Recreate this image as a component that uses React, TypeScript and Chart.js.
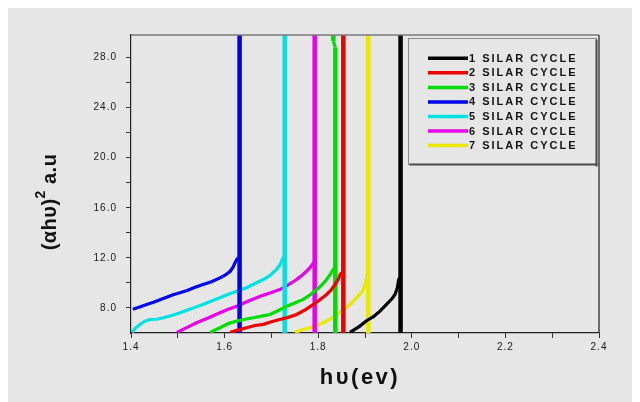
import React, { useEffect, useRef } from 'react';
import { Chart, registerables } from 'chart.js';

Chart.register(...registerables);

const seriesLabels = ['1 SILAR CYCLE', '2 SILAR CYCLE', '3 SILAR CYCLE', '4 SILAR CYCLE', '5 SILAR CYCLE', '6 SILAR CYCLE', '7 SILAR CYCLE'];
const seriesColors = ['#000000', '#ee0000', '#00dd00', '#0000ee', '#00e2e2', '#e800e8', '#e8e800'];

// 1 SILAR cycle
const s1X = [1.868, 1.889, 1.904, 1.918, 1.932, 1.946, 1.958, 1.964, 1.969, 1.972, 1.976, 1.976, 1.976];
const s1Y = [6.05, 6.55, 7.0, 7.3, 7.75, 8.28, 8.75, 9.08, 9.6, 10.27, 10.5, 6.0, 29.8];
// 2 SILAR cycle
const s2X = [1.612, 1.630, 1.647, 1.665, 1.683, 1.700, 1.718, 1.736, 1.754, 1.772, 1.790, 1.805, 1.818, 1.828, 1.836, 1.843, 1.847, 1.8537, 1.8537, 1.8537];
const s2Y = [6.05, 6.25, 6.42, 6.6, 6.69, 6.9, 7.08, 7.25, 7.48, 7.85, 8.28, 8.7, 9.08, 9.45, 9.87, 10.3, 10.67, 10.9, 6.0, 29.8];
// 3 SILAR cycle
const s3X = [1.569, 1.590, 1.608, 1.626, 1.644, 1.661, 1.679, 1.697, 1.715, 1.733, 1.750, 1.768, 1.783, 1.797, 1.808, 1.818, 1.826, 1.832, 1.8366, 1.8366, 1.8366, 1.8323, 1.8323];
const s3Y = [6.05, 6.42, 6.75, 6.95, 7.1, 7.22, 7.35, 7.48, 7.8, 8.14, 8.4, 8.68, 9.05, 9.47, 9.85, 10.27, 10.7, 11.07, 11.2, 6.0, 28.8, 29.3, 29.8];
// 4 SILAR cycle
const s4X = [1.404, 1.420, 1.435, 1.448, 1.462, 1.476, 1.490, 1.503, 1.520, 1.537, 1.554, 1.572, 1.590, 1.601, 1.612, 1.618, 1.622, 1.627, 1.632, 1.632, 1.632];
const s4Y = [7.9, 8.1, 8.3, 8.45, 8.65, 8.85, 9.05, 9.2, 9.4, 9.65, 9.87, 10.1, 10.4, 10.62, 10.93, 11.25, 11.6, 11.92, 12.0, 6.0, 29.8];
// 5 SILAR cycle
const s5X = [1.402, 1.410, 1.419, 1.430, 1.441, 1.455, 1.469, 1.487, 1.505, 1.530, 1.554, 1.572, 1.590, 1.608, 1.626, 1.647, 1.665, 1.683, 1.697, 1.711, 1.719, 1.725, 1.7284, 1.7284, 1.7284];
const s5Y = [6.05, 6.4, 6.68, 6.95, 7.08, 7.1, 7.22, 7.4, 7.62, 7.95, 8.28, 8.55, 8.81, 9.1, 9.34, 9.61, 9.95, 10.27, 10.6, 11.07, 11.5, 12.0, 12.1, 6.0, 29.8];
// 6 SILAR cycle
const s6X = [1.498, 1.520, 1.540, 1.565, 1.590, 1.608, 1.626, 1.651, 1.676, 1.697, 1.718, 1.736, 1.754, 1.765, 1.775, 1.784, 1.790, 1.7925, 1.7925, 1.7925];
const s6Y = [6.05, 6.45, 6.82, 7.2, 7.62, 7.9, 8.14, 8.55, 8.94, 9.2, 9.47, 9.85, 10.27, 10.6, 10.93, 11.3, 11.6, 11.7, 6.0, 29.8];
// 7 SILAR cycle
const s7X = [1.750, 1.766, 1.782, 1.796, 1.811, 1.825, 1.840, 1.854, 1.868, 1.879, 1.889, 1.896, 1.900, 1.903, 1.905, 1.907, 1.907, 1.907];
const s7Y = [6.05, 6.25, 6.42, 6.6, 6.82, 7.1, 7.48, 7.85, 8.28, 8.7, 9.08, 9.45, 9.87, 10.3, 10.8, 11.0, 6.0, 29.8];

const seriesX = [s1X, s2X, s3X, s4X, s5X, s6X, s7X];
const seriesY = [s1Y, s2Y, s3Y, s4Y, s5Y, s6Y, s7Y];

const xTicks = [1.4, 1.5, 1.6, 1.7, 1.8, 1.9, 2.0, 2.1, 2.2, 2.3, 2.4];
const xTickLabels = ['1.4', '', '1.6', '', '1.8', '', '2.0', '', '2.2', '', '2.4'];
const yTicks = [8, 10, 12, 14, 16, 18, 20, 22, 24, 26, 28];
const yTickLabels = ['8.0', '', '12.0', '', '16.0', '', '20.0', '', '24.0', '', '28.0'];

const xTitle = 'hυ(ev)';
const yTitleMain = '(αhυ)';
const yTitleSup = '2';
const yTitleTail = ' a.u';

const FONT = 'Arial, "Liberation Sans", sans-serif';
const W = 625;
const H = 394;

const decorPlugin = {
  id: 'decor',
  beforeDraw(chart: any) {
    const ctx = chart.ctx;
    ctx.save();
    ctx.fillStyle = '#e6e6e6';
    ctx.fillRect(0, 0, chart.width, chart.height);
    ctx.restore();
    ctx.letterSpacing = '1px';
  },
  afterDraw(chart: any) {
    const ctx = chart.ctx;
    ctx.letterSpacing = '0px';
    const a = chart.chartArea;
    ctx.save();
    // top border
    ctx.strokeStyle = '#7a7a7a';
    ctx.lineWidth = 1.5;
    ctx.beginPath();
    ctx.moveTo(a.left, a.top);
    ctx.lineTo(a.right, a.top);
    ctx.stroke();
    // right border
    ctx.strokeStyle = '#444';
    ctx.lineWidth = 1.5;
    ctx.beginPath();
    ctx.moveTo(a.right, a.top);
    ctx.lineTo(a.right, a.bottom);
    ctx.stroke();

    // legend box
    const bx = 401.5, by = 30.5, bw = 188, bh = 126;
    ctx.strokeStyle = '#8a8a8a';
    ctx.lineWidth = 1;
    ctx.strokeRect(bx, by, bw, bh);
    ctx.fillStyle = '#4a4a4a';
    ctx.fillRect(bx + bw - 1, by + 1, 2, bh + 1);
    ctx.fillRect(bx + 1, by + bh - 1, bw, 2);

    ctx.font = `bold 11px ${FONT}`;
    ctx.textBaseline = 'middle';
    ctx.textAlign = 'left';
    ctx.letterSpacing = '2px';
    chart.data.datasets.forEach((ds: any, i: number) => {
      const yy = 50.3 + i * 14.55;
      ctx.strokeStyle = ds.borderColor;
      ctx.lineWidth = 3.5;
      ctx.beginPath();
      ctx.moveTo(421, yy);
      ctx.lineTo(461, yy);
      ctx.stroke();
      ctx.fillStyle = '#141414';
      ctx.fillText(ds.label, 462, yy + 0.5);
    });

    // x title
    ctx.font = `bold 22px ${FONT}`;
    ctx.letterSpacing = '2.5px';
    ctx.textAlign = 'center';
    ctx.textBaseline = 'middle';
    ctx.fillStyle = '#111';
    ctx.fillText(xTitle, (a.left + a.right) / 2 - 5, 370);

    // y title
    ctx.letterSpacing = '0.5px';
    ctx.translate(43, 194);
    ctx.rotate(-Math.PI / 2);
    const fMain = `bold 20px ${FONT}`;
    const fSup = `bold 14px ${FONT}`;
    ctx.font = fMain;
    const w1 = ctx.measureText(yTitleMain).width;
    const w3 = ctx.measureText(yTitleTail).width;
    ctx.font = fSup;
    const w2 = ctx.measureText(yTitleSup).width;
    let x0 = -(w1 + w2 + w3) / 2;
    ctx.textAlign = 'left';
    ctx.font = fMain;
    ctx.fillText(yTitleMain, x0, 0);
    x0 += w1;
    ctx.font = fSup;
    ctx.fillText(yTitleSup, x0, -9);
    x0 += w2;
    ctx.font = fMain;
    ctx.fillText(yTitleTail, x0, 0);
    ctx.restore();
    ctx.letterSpacing = '0px';
  },
};

export default function App() {
  const ref = useRef<HTMLCanvasElement | null>(null);
  useEffect(() => {
    if (!ref.current) return;
    const datasets = seriesLabels.map((label, i) => ({
      label,
      data: seriesX[i].map((x, j) => ({ x, y: seriesY[i][j] })),
      borderColor: seriesColors[i],
      backgroundColor: seriesColors[i],
      borderWidth: 3.2,
      pointRadius: 0,
      tension: 0,
      fill: false,
      segment: {
        borderWidth: (c: any) => (Math.abs(c.p0.x - c.p1.x) < 0.6 ? 4.5 : 3.2),
      },
    }));
    const chart = new Chart(ref.current, {
      type: 'line',
      data: { datasets },
      plugins: [decorPlugin],
      options: {
        animation: false,
        responsive: false,
        devicePixelRatio: 1,
        layout: { padding: { left: 0, top: 27, right: 33, bottom: 0 } },
        plugins: { legend: { display: false }, tooltip: { enabled: false }, title: { display: false } },
        scales: {
          x: {
            type: 'linear',
            min: 1.4,
            max: 2.4,
            afterBuildTicks: (s: any) => {
              s.ticks = xTicks.map((v) => ({ value: v }));
            },
            afterFit: (s: any) => {
              s.height = H - 325;
            },
            ticks: {
              autoSkip: false,
              maxRotation: 0,
              padding: 3,
              color: '#1a1a1a',
              font: { size: 10, family: FONT },
              callback: (_v: any, i: number) => xTickLabels[i],
            },
            grid: { drawOnChartArea: false, drawTicks: true, tickLength: 5, color: '#333', lineWidth: 1 },
            border: { color: '#222', width: 1.2 },
          },
          y: {
            type: 'linear',
            min: 6,
            max: 29.8,
            afterBuildTicks: (s: any) => {
              s.ticks = yTicks.map((v) => ({ value: v }));
            },
            afterFit: (s: any) => {
              s.width = 124;
            },
            ticks: {
              autoSkip: false,
              padding: 9,
              color: '#1a1a1a',
              font: { size: 10, family: FONT },
              callback: (_v: any, i: number) => yTickLabels[i],
            },
            grid: { drawOnChartArea: false, drawTicks: true, tickLength: 5, color: '#333', lineWidth: 1 },
            border: { color: '#222', width: 1.2 },
          },
        },
      } as any,
    });
    return () => chart.destroy();
  }, []);
  return (
    <div style={{ marginLeft: -1 }}>
      <canvas ref={ref} width={W} height={H} style={{ display: 'block', width: W, height: H }} />
    </div>
  );
}
